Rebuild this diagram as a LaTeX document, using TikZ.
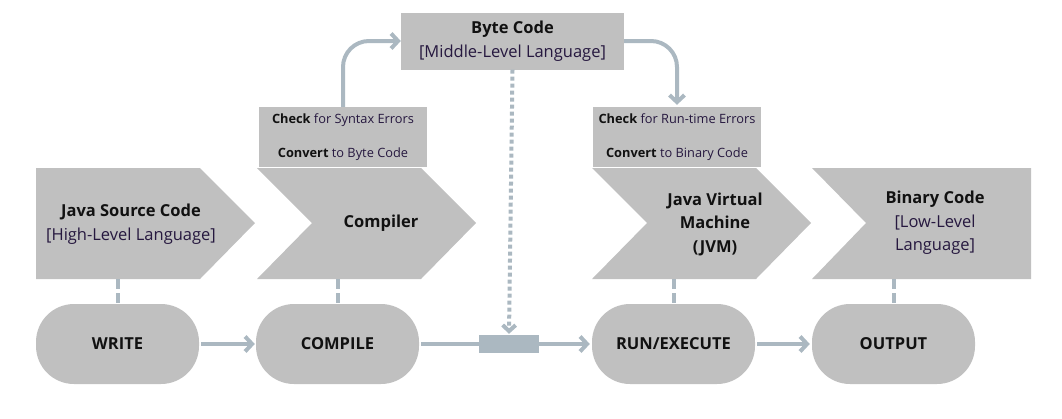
\documentclass[tikz,border=0pt]{standalone}
\usepackage{fontspec}
\setmainfont{Open Sans}
\usetikzlibrary{arrows.meta}
\definecolor{shapegray}{HTML}{C0C0C0}
\definecolor{linecol}{HTML}{ABB8C1}
\definecolor{subtxt}{HTML}{26183F}
\definecolor{txt}{HTML}{111111}
\begin{document}
\begin{tikzpicture}[x=1pt,y=-1pt,
  big/.style={font=\fontsize{16.5}{23.5}\selectfont, align=center, text=txt, inner sep=0pt},
  smallbox/.style={fill=shapegray, minimum width=168pt, minimum height=60pt, inner sep=0pt,
    align=center, font=\fontsize{12.8}{34}\selectfont, text=subtxt},
  pill/.style={fill=shapegray, rounded corners=38pt, minimum width=163pt, minimum height=80pt,
    inner sep=0pt, font=\fontsize{16.5}{18}\selectfont\bfseries, text=txt},
  conn/.style={draw=linecol, line width=4pt},
  arr/.style={conn, -{Straight Barb[length=7pt,width=15pt]}},
  dashconn/.style={conn, dash pattern=on 10pt off 4pt},
  dotconn/.style={conn, dash pattern=on 4pt off 3pt, -{Straight Barb[length=6pt,width=13pt]}},
]
\useasboundingbox (0,0) rectangle (1062,418);

% big shapes
\fill[shapegray] (36,168) -- (200,168) -- (255,223) -- (200,279) -- (36,279) -- cycle;
\fill[shapegray] (257,168) -- (421,168) -- (476,223) -- (421,279) -- (257,279) -- (312,223) -- cycle;
\fill[shapegray] (592,168) -- (756,168) -- (811,223) -- (756,279) -- (592,279) -- (647,223) -- cycle;
\fill[shapegray] (812,168) -- (1031,168) -- (1031,279) -- (812,279) -- (866,223) -- cycle;

% top boxes
\node[smallbox] (cbox) at (343,137) {\textcolor{txt}{\bfseries Check} for Syntax Errors\\\textcolor{txt}{\bfseries Convert} to Byte Code};
\node[smallbox] (jbox) at (677,137) {\textcolor{txt}{\bfseries Check} for Run-time Errors\\\textcolor{txt}{\bfseries Convert} to Binary Code};
\node[fill=shapegray, minimum width=223pt, minimum height=57pt, inner sep=0pt, big] (bc) at (512.5,41)
  {\bfseries Byte Code\\\textcolor{subtxt}{[Middle-Level Language]}};

% shape texts
\node[big] (jsc) at (131,224) {\bfseries Java Source Code\\\textcolor{subtxt}{[High-Level Language]}};
\node[big] (comp) at (381,223) {\bfseries Compiler};
\node[big] (jvm) at (715,224) {\bfseries Java Virtual\\\bfseries Machine\\\bfseries (JVM)};
\node[big] (bin) at (935,223) {\bfseries Binary Code\\\textcolor{subtxt}{[Low-Level}\\\textcolor{subtxt}{Language]}};

% pills
\node[pill] (write) at (117.5,344) {WRITE};
\node[pill] (compile) at (337.5,344) {COMPILE};
\node[pill] (run) at (673.5,344) {RUN/EXECUTE};
\node[pill] (output) at (893.5,344) {OUTPUT};

% junction
\node[fill=linecol, minimum width=60pt, minimum height=18pt, inner sep=0pt] (jn) at (509,344) {};

% anchor coordinates on shape bottoms
\coordinate (jscb) at (117.5,279);
\coordinate (compb) at (337.5,279);
\coordinate (jvmb) at (673.5,279);
\coordinate (binb) at (893.5,279);

% dashed links
\draw[dashconn] (jscb) -- (write.north);
\draw[dashconn] (compb) -- (compile.north);
\draw[dashconn] (jvmb) -- (run.north);
\draw[dashconn] (binb) -- (output.north);

% flow arrows
\draw[arr, shorten <=2pt, shorten >=1pt] (write.east) -- (compile.west);
\draw[conn, shorten <=2pt] (compile.east) -- (jn.west);
\draw[arr, shorten >=2pt] (jn.east) -- (run.west);
\draw[arr, shorten <=2pt, shorten >=2pt] (run.east) -- (output.west);

% byte code routes
\draw[arr, rounded corners=26pt] (cbox.north) |- (bc.west);
\draw[arr, rounded corners=26pt, shorten >=2pt] (bc.east) -| (jbox.north);
\draw[dotconn, shorten >=1pt] (bc.south) -- (jn.north);
\end{tikzpicture}
\end{document}
